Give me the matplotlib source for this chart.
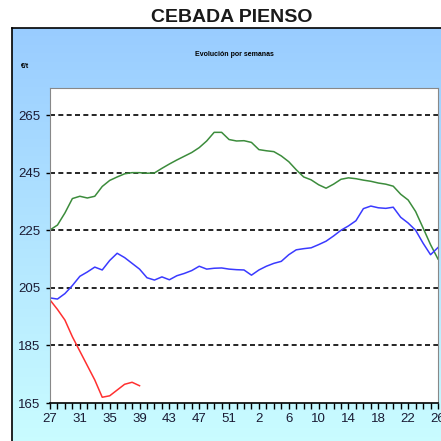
import numpy as np
import matplotlib
matplotlib.use("Agg")
import matplotlib.pyplot as plt

plt.rcParams['font.family'] = ['Liberation Sans', 'DejaVu Sans']

# --- Data: weekly prices (EUR/t), campaign weeks 27..53, 1..26 ---
weeks = list(range(27, 54)) + list(range(1, 27))

green = [225.1, 226.8, 231.0, 236.0, 236.8, 236.2, 236.8, 240.2, 242.3, 243.5,
         244.6, 245.0, 245.0, 244.8, 244.9, 246.5, 248.0, 249.4, 250.7, 252.0,
         253.7, 256.0, 259.0, 259.0, 256.5, 256.0, 256.1, 255.5, 253.0, 252.6,
         252.3, 250.8, 248.8, 246.0, 243.5, 242.5, 240.8, 239.6, 241.0, 242.7,
         243.2, 242.9, 242.4, 242.0, 241.4, 241.0, 240.3, 237.5, 235.5, 231.5,
         225.8, 220.0, 215.0]

blue = [201.5, 201.1, 203.0, 205.8, 209.0, 210.5, 212.2, 211.2, 214.5, 217.0,
        215.5, 213.5, 211.5, 208.5, 207.7, 208.8, 207.8, 209.2, 210.0, 211.0,
        212.5, 211.5, 211.8, 211.9, 211.5, 211.3, 211.2, 209.4, 211.2, 212.5,
        213.5, 214.2, 216.5, 218.2, 218.6, 218.9, 220.0, 221.2, 223.0, 225.0,
        226.5, 228.3, 232.5, 233.4, 232.8, 232.6, 233.0, 229.5, 227.5, 225.0,
        220.5, 216.5, 219.0]

red = [200.8, 197.5, 193.8, 188.0, 183.0, 178.0, 173.0, 167.0, 167.5, 169.5,
       171.5, 172.2, 171.0]

yticks = [165, 185, 205, 225, 245, 265]

# --- Figure ---
fig = plt.figure(figsize=(4.41, 4.41), dpi=100)

# blue gradient panel behind the chart
panel = fig.add_axes([12/441, -0.05, 1.0, 1 - 28/441 + 0.05])
grad = np.linspace(0, 1, 256).reshape(-1, 1)
top = np.array([153, 204, 255]) / 255
bot = np.array([204, 255, 255]) / 255
img = top + (bot - top) * grad[:, :, None]
panel.imshow(img, aspect='auto', extent=[0, 1, 0, 1])
panel.set_xticks([])
panel.set_yticks([])
for s in panel.spines.values():
    s.set_color('black')
    s.set_linewidth(1.2)

fig.text(232/441, 1 - 18/441, "CEBADA PIENSO", ha='center', va='center',
         fontsize=14, fontweight='bold', color='#1a1a1a')
fig.text(234/441, 1 - 55/441, "Evolución por semanas", ha='center', va='center',
         fontsize=5, fontweight='bold')
fig.text(25/441, 1 - 66/441, "€/t", ha='center', va='center',
         fontsize=5, fontweight='bold')

ax = fig.add_axes([50/441, 1 - 403/441, 388/441, (403 - 88)/441])
ax.set_facecolor('white')

x = np.arange(len(weeks))
ax.plot(x, green, color='#3c8c3c', lw=1.1)
ax.plot(x[:len(blue)], blue, color='#3a3aff', lw=1.1)
ax.plot(x[:len(red)], red, color='#ff3030', lw=1.1)

ax.set_xlim(0, len(weeks) - 1)
ax.set_ylim(165, 274.4)

for v in yticks[1:]:
    ax.axhline(v, color='black', lw=1.2, ls=(0, (3, 2)), zorder=0)

ax.set_yticks(yticks)
ax.set_yticklabels([str(v) for v in yticks], fontsize=9.5, color='#1a1a33')
ax.set_xticks(x)
ax.set_xticklabels([str(w) if i % 4 == 0 else '' for i, w in enumerate(weeks)],
                   fontsize=9.5, color='#1a1a33')
ax.tick_params(axis='x', direction='out', length=4.5, width=1, pad=3)
ax.tick_params(axis='y', direction='out', length=3, width=1, pad=4)

for side in ['top', 'right', 'left']:
    ax.spines[side].set_color('#888888')
    ax.spines[side].set_linewidth(0.8)
ax.spines['bottom'].set_color('black')
ax.spines['bottom'].set_linewidth(1.2)

fig.savefig("out.png", dpi=100)
